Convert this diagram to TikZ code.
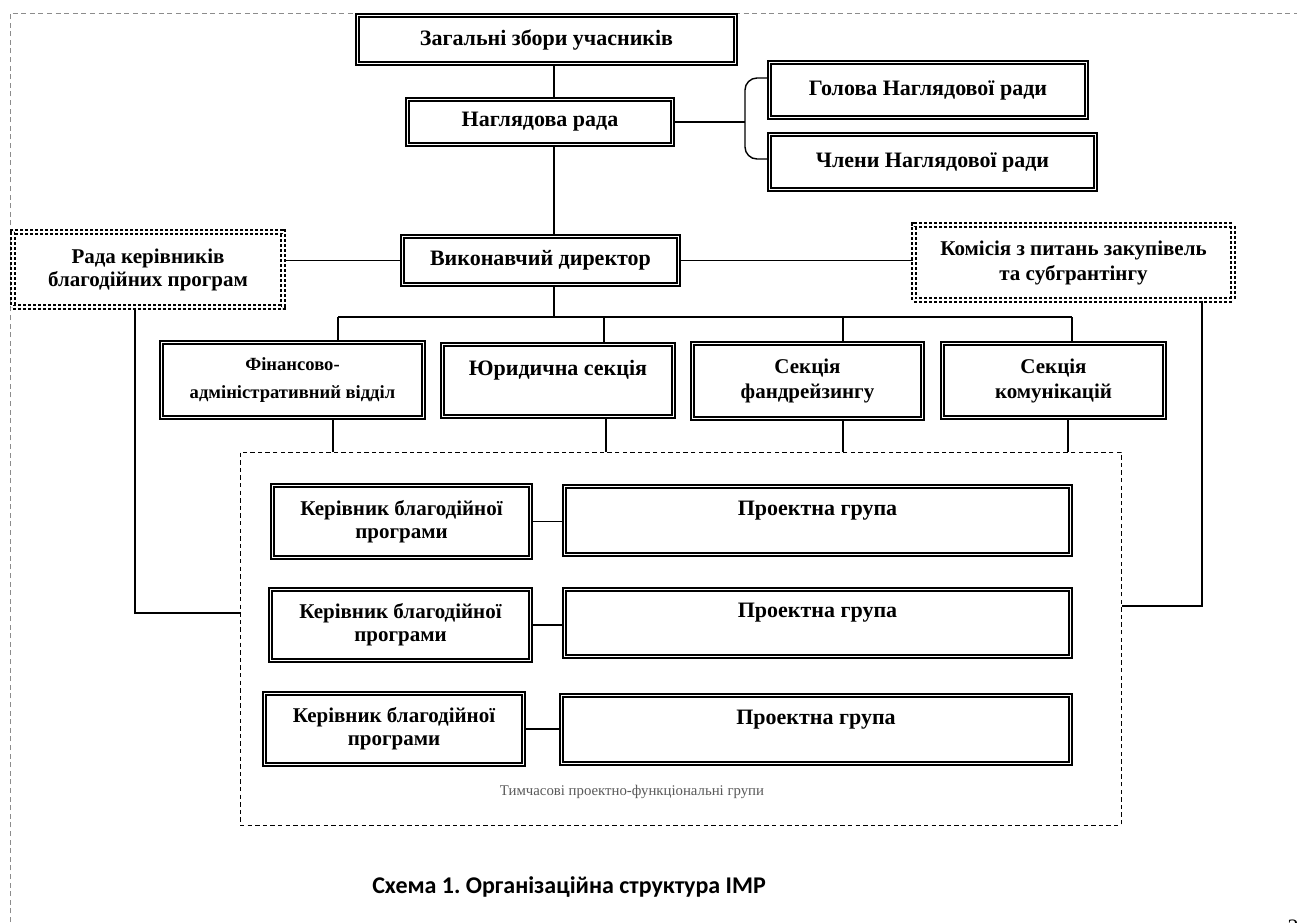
\documentclass[tikz,border=0pt]{standalone}
\usepackage{fontspec}
\setmainfont{Liberation Serif}
\newfontfamily\capfont{Carlito}
\usetikzlibrary{calc}
\tikzset{
    unit/.style={draw, double, double distance=0.9pt, line width=1pt, align=center,
                 inner sep=0pt, font=\bfseries\fontsize{11}{12.5}\selectfont},
    council/.style={unit, line width=0.8pt, double distance=1pt, dash pattern=on 1.6pt off 0.9pt},
    group/.style={draw, line width=0.5pt, dash pattern=on 2.2pt off 1.6pt, inner sep=0pt},
    link/.style={line width=0.7pt},
    frame/.style={draw=black!45, line width=0.4pt, dash pattern=on 2.5pt off 1.8pt},
    note/.style={font=\fontsize{7.4}{8}\selectfont, text=black!65},
}

\begin{document}
\begin{tikzpicture}[x=0.5pt, y=-0.5pt]
    \useasboundingbox (0,0) rectangle (1297,922);
    % Page frame
    \draw[frame] (10,922) -- (10,13) -- (1297,13);

    % Governing bodies
    \node[unit, minimum width=189pt, minimum height=24pt] (zbory) at (546.5,39.5) {Загальні збори учасників};
    \node[unit, minimum width=132.5pt, minimum height=22.5pt] (nrada) at (540,122) {Наглядова рада};
    \node[unit, minimum width=158.5pt, minimum height=27.5pt] (golova) at (928,90) {Голова Наглядової ради};
    \node[unit, minimum width=163pt, minimum height=27.5pt] (chleny) at (932.5,162) {Члени Наглядової ради};
    \node[unit, minimum width=138pt, minimum height=24pt] (vykon) at (540.5,260.5) {Виконавчий директор};

    % Advisory councils
    \node[council, minimum width=135pt, minimum height=37.5pt, font=\bfseries\fontsize{10.5}{11.5}\selectfont]
        (rada) at (148,269.5) {Рада керівників\\благодійних програм};
    \node[council, minimum width=159.5pt, minimum height=37.5pt, font=\bfseries\fontsize{10.5}{12.5}\selectfont]
        (komisia) at (1073.5,262.5) {Комісія з питань закупівель\\та субгрантінгу};

    % Sections
    \node[unit, minimum width=131pt, minimum height=37.5pt, font=\bfseries\fontsize{9.3}{14}\selectfont]
        (fin) at (292.5,380) {Фінансово-\\адміністративний відділ};
    \node[unit, minimum width=115.5pt, minimum height=36pt] (yur) at (558,380.5) {Юридична секція\\\mbox{}};
    \node[unit, minimum width=115pt, minimum height=37.5pt, font=\bfseries\fontsize{10.5}{12.5}\selectfont]
        (fand) at (807.5,381) {Секція\\фандрейзингу};
    \node[unit, minimum width=111pt, minimum height=37pt, font=\bfseries\fontsize{10.5}{12.5}\selectfont]
        (komun) at (1053.5,380.5) {Секція\\комунікацій};

    % Temporary project groups
    \node[group, minimum width=440.5pt, minimum height=186.5pt] (tpfg) at (680.5,638.5) {};
    \node[note] (tpfgl) at (632,792) {Тимчасові проектно-функціональні групи};
    \node[unit, minimum width=129pt, minimum height=36pt, font=\bfseries\fontsize{10.5}{11.5}\selectfont]
        (kb1) at (401.5,521.5) {Керівник благодійної\\програми};
    \node[unit, minimum width=130pt, minimum height=35.5pt, font=\bfseries\fontsize{10.5}{11.5}\selectfont]
        (kb2) at (400.5,625) {Керівник благодійної\\програми};
    \node[unit, minimum width=129.5pt, minimum height=35.5pt, font=\bfseries\fontsize{10.5}{11.5}\selectfont]
        (kb3) at (394,729) {Керівник благодійної\\програми};
    \node[unit, minimum width=253pt, minimum height=34pt] (pg1) at (817.5,520.5) {Проектна група\\\mbox{}};
    \node[unit, minimum width=253pt, minimum height=33.5pt] (pg2) at (817.5,623) {Проектна група\\\mbox{}};
    \node[unit, minimum width=254.5pt, minimum height=34pt] (pg3) at (816,729.5) {Проектна група\\\mbox{}};

    % Caption and page number
    \node[font=\capfont\bfseries\fontsize{12}{14}\selectfont] (cap) at (569,887) {Схема 1.\ Організаційна структура ІМР};
    \node[font=\fontsize{11}{12}\selectfont, anchor=north] (pnum) at (1293,913) {2};

    % Vertical spine
    \coordinate (spine) at (554,0);
    \draw[link] (zbory.south -| spine) -- (nrada.north -| spine);
    \draw[link] (nrada.south -| spine) -- (vykon.north -| spine);

    % Brace to the board members
    \coordinate (bt) at (745,78);
    \coordinate (bb) at (745,159);
    \draw[link] (nrada.east) -- (nrada.east -| bt);
    \draw[link, rounded corners=6pt] (golova.west |- bt) -- (bt) -- (bb) -- (chleny.west |- bb);

    % Director to councils
    \draw[link] (vykon.west) -- (vykon.west -| rada.east);
    \draw[link] (vykon.east) -- (vykon.east -| komisia.west);

    % Bus to sections
    \coordinate (d1) at (338,317);
    \coordinate (d2) at (604,317);
    \coordinate (d3) at (843,317);
    \coordinate (d4) at (1072,317);
    \draw[link] (vykon.south -| spine) -- (spine |- d1);
    \draw[link] (d1) -- (d4);
    \foreach \d/\n in {d1/fin, d2/yur, d3/fand, d4/komun}
        \draw[link] (\d) -- (\d |- \n.north);
    \foreach \x/\n in {333/fin, 606/yur, 843/fand, 1068/komun}
        \draw[link] (\n.south -| \x,0) -- (tpfg.north -| \x,0);

    % Councils to the project groups
    \coordinate (lk) at (135,613);
    \coordinate (rk) at (1202,606);
    \draw[link] (rada.south -| lk) -- (lk) -- (lk -| tpfg.west);
    \draw[link] (komisia.south -| rk) -- (rk) -- (rk -| tpfg.east);

    % Heads to groups
    \foreach \i in {1,2,3}
        \draw[link] (kb\i.east) -- (kb\i.east -| pg\i.west);
\end{tikzpicture}
\end{document}
